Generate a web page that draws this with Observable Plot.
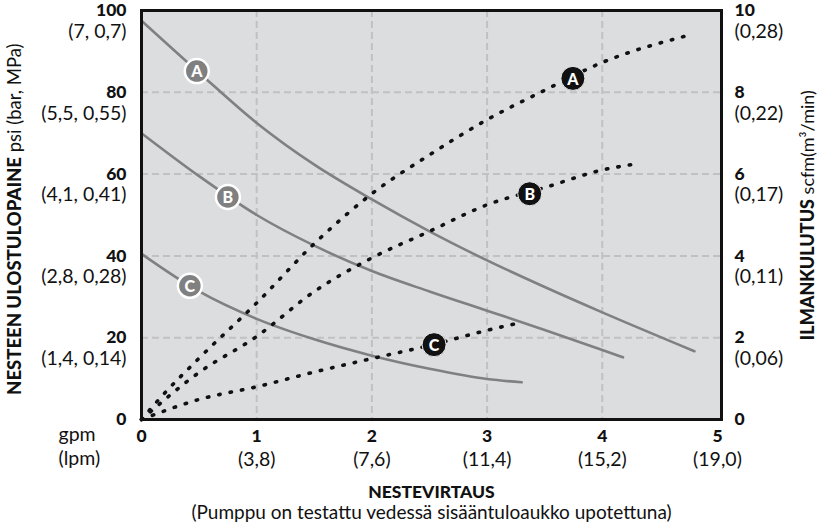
<!DOCTYPE html>
<html>
<head>
<meta charset="utf-8">
<script src="https://cdn.jsdelivr.net/npm/d3@7"></script>
<script src="https://cdn.jsdelivr.net/npm/@observablehq/plot@0.6"></script>
<style>
  html, body { margin: 0; padding: 0; background: #fff; }
  #chart svg { display: block; }
</style>
</head>
<body>
<div id="chart"></div>
<script>
// ---- Data ----
// Liquid outlet pressure curves (psi) vs flow (gpm)
const pressAX = [0, 0.5, 1, 1.5, 2, 2.5, 3, 3.5, 4, 4.8];
const pressA  = [97.5, 84.8, 72.5, 62.3, 53.8, 46, 38.9, 32.4, 26.2, 16.7];
const pressBX = [0, 0.5, 1, 1.5, 2, 2.5, 3, 3.5, 4, 4.18];
const pressB  = [70, 59.5, 50, 42.5, 36.3, 31.3, 26.6, 21.9, 17, 15.2];
const pressCX = [0, 0.5, 1, 1.5, 2, 2.5, 3, 3.3];
const pressC  = [40.5, 31.3, 24.6, 19.6, 15.6, 12.4, 9.9, 9.1];
// Air consumption curves (scfm) vs flow (gpm)
const airAX = [0, 0.17, 0.5, 1, 1.5, 2, 2.5, 3, 3.5, 4, 4.73];
const airA  = [0, 0.55, 1.5, 2.85, 4.3, 5.52, 6.47, 7.33, 8.05, 8.73, 9.38];
const airBX = [0, 0.5, 1, 1.5, 2, 2.5, 3, 3.5, 4, 4.27];
const airB  = [0, 1.15, 2.03, 3.13, 3.95, 4.6, 5.25, 5.67, 6.1, 6.24];
const airCX = [0, 0.5, 1, 1.5, 2, 2.5, 3, 3.31];
const airC  = [0, 0.49, 0.8, 1.16, 1.49, 1.81, 2.18, 2.38];
// Curve labels
const letters = ["A", "B", "C"];
const pressLabelX = [0.48, 0.75, 0.42];
const pressLabelY = [85.2, 54.4, 32.7];
const airLabelX = [3.745, 3.37, 2.54];
const airLabelY = [8.34, 5.52, 1.83];
// Tick labels
const psiTicks = [0, 20, 40, 60, 80, 100];
const psiSub = ["", "(1,4, 0,14)", "(2,8, 0,28)", "(4,1, 0,41)", "(5,5, 0,55)", "(7, 0,7)"];
const scfmTicks = [0, 2, 4, 6, 8, 10];
const scfmSub = ["", "(0,06)", "(0,11)", "(0,17)", "(0,22)", "(0,28)"];
const gpmTicks = [0, 1, 2, 3, 4, 5];
const lpmSub = ["", "(3,8)", "(7,6)", "(11,4)", "(15,2)", "(19,0)"];
const gridX = [1, 2, 3, 4];
const gridY = [20, 40, 60, 80];
const leftTitleBold = "NESTEEN ULOSTULOPAINE";
const leftTitleReg = " psi (bar, MPa)";
const rightTitleBold = "ILMANKULUTUS";
const rightTitleReg = " scfm(m³/min)";
const xTitle = "NESTEVIRTAUS";
const xSubtitle = "(Pumppu on testattu vedessä sisääntuloaukko upotettuna)";

// ---- Build tables ----
const toRows = (xs, ys, k = 1) => xs.map((x, i) => ({x, y: ys[i] * k}));
const pA = toRows(pressAX, pressA), pB = toRows(pressBX, pressB), pC = toRows(pressCX, pressC);
const aA = toRows(airAX, airA, 10), aB = toRows(airBX, airB, 10), aC = toRows(airCX, airC, 10);
const pressLabels = letters.map((l, i) => ({l, x: pressLabelX[i], y: pressLabelY[i]}));
const airLabels = letters.map((l, i) => ({l, x: airLabelX[i], y: airLabelY[i] * 10}));
const psiRows = psiTicks.map((t, i) => ({t, s: psiSub[i]}));
const scfmRows = scfmTicks.map((t, i) => ({t, s: scfmSub[i]}));
const gpmRows = gpmTicks.map((t, i) => ({t, s: lpmSub[i]}));

const FONT = "Lato, 'Open Sans', sans-serif";
const gray = "#808080";
const ink = "#111";
const REG = 19.5, BOLD = 17.5;
const dotted = {stroke: ink, strokeWidth: 3.6, strokeDasharray: "1.4 10.2", strokeLinecap: "round", curve: "monotone-x"};
const solid = {stroke: gray, strokeWidth: 2.6, curve: "monotone-x"};

const chart = Plot.plot({
  width: 819,
  height: 529,
  marginLeft: 141,
  marginRight: 98,
  marginTop: 10,
  marginBottom: 110,
  x: {domain: [0, 5.035], axis: null},
  y: {domain: [0, 100], axis: null},
  style: {fontFamily: FONT, background: "#fff", overflow: "visible"},
  marks: [
    Plot.frame({fill: "#dcdddf"}),
    Plot.ruleX(gridX, {x: d => d, stroke: "#c1c1c3", strokeWidth: 2, strokeDasharray: "7 4"}),
    Plot.ruleY(gridY, {y: d => d, stroke: "#c1c1c3", strokeWidth: 2, strokeDasharray: "7 4"}),
    Plot.line(pA, {x: "x", y: "y", ...solid}),
    Plot.line(pB, {x: "x", y: "y", ...solid}),
    Plot.line(pC, {x: "x", y: "y", ...solid}),
    Plot.line(aA, {x: "x", y: "y", ...dotted}),
    Plot.line(aB, {x: "x", y: "y", ...dotted}),
    Plot.line(aC, {x: "x", y: "y", ...dotted}),
    Plot.dot(pressLabels, {x: "x", y: "y", r: 12, fill: gray, stroke: "#fff", strokeWidth: 2.5}),
    Plot.text(pressLabels, {x: "x", y: "y", text: "l", fill: "#fff", fontWeight: 900, fontSize: 16, dy: 1}),
    Plot.dot(airLabels, {x: "x", y: "y", r: 12, fill: ink, stroke: "#e8e8e8", strokeWidth: 1}),
    Plot.text(airLabels, {x: "x", y: "y", text: "l", fill: "#fff", fontWeight: 900, fontSize: 16, dy: 1}),
    Plot.frame({stroke: ink, strokeWidth: 3}),
    // Left axis labels
    Plot.text(psiRows, {frameAnchor: "left", y: "t", text: d => String(d.t), dx: -15, dy: 0, textAnchor: "end", fontWeight: 900, fontSize: BOLD, fill: ink}),
    Plot.text(psiRows, {frameAnchor: "left", y: "t", text: "s", dx: -15, dy: 21, textAnchor: "end", fontSize: REG, fill: ink}),
    // Right axis labels
    Plot.text(scfmRows, {frameAnchor: "right", y: d => d.t * 10, text: d => String(d.t), dx: 13, dy: 0, textAnchor: "start", fontWeight: 900, fontSize: BOLD, fill: ink}),
    Plot.text(scfmRows, {frameAnchor: "right", y: d => d.t * 10, text: "s", dx: 13, dy: 21, textAnchor: "start", fontSize: REG, fill: ink}),
    // Bottom axis labels
    Plot.text(gpmRows, {frameAnchor: "bottom", x: "t", text: d => String(d.t), dy: 22, fontWeight: 900, fontSize: BOLD, fill: ink}),
    Plot.text(gpmRows, {frameAnchor: "bottom", x: "t", text: "s", dy: 46, fontSize: REG, fill: ink}),
    Plot.text(["gpm"], {frameAnchor: "bottom-left", dx: -83, dy: 21, textAnchor: "start", fontSize: REG, fill: ink}),
    Plot.text(["(lpm)"], {frameAnchor: "bottom-left", dx: -83, dy: 45, textAnchor: "start", fontSize: REG, fill: ink}),
    // Axis titles
    Plot.text([xTitle], {frameAnchor: "bottom", dy: 78, fontWeight: 900, fontSize: BOLD, fill: ink}),
    Plot.text([xSubtitle], {frameAnchor: "bottom", dy: 99, fontSize: 19, fill: ink}),
    Plot.text([leftTitleBold], {frameAnchor: "left", dx: -126, dy: -58, rotate: -90, textAnchor: "end", fontWeight: 900, fontSize: 18.5, fill: ink}),
    Plot.text([leftTitleReg], {frameAnchor: "left", dx: -126, dy: -58, rotate: -90, textAnchor: "start", fontSize: 18.5, fill: ink}),
    Plot.text([rightTitleBold], {frameAnchor: "right", dx: 87, dy: -16, rotate: -90, textAnchor: "end", fontWeight: 900, fontSize: 18, fill: ink}),
    Plot.text([rightTitleReg], {frameAnchor: "right", dx: 87, dy: -16, rotate: -90, textAnchor: "start", fontSize: 18, fill: ink})
  ]
});
document.getElementById("chart").appendChild(chart);
</script>
</body>
</html>
